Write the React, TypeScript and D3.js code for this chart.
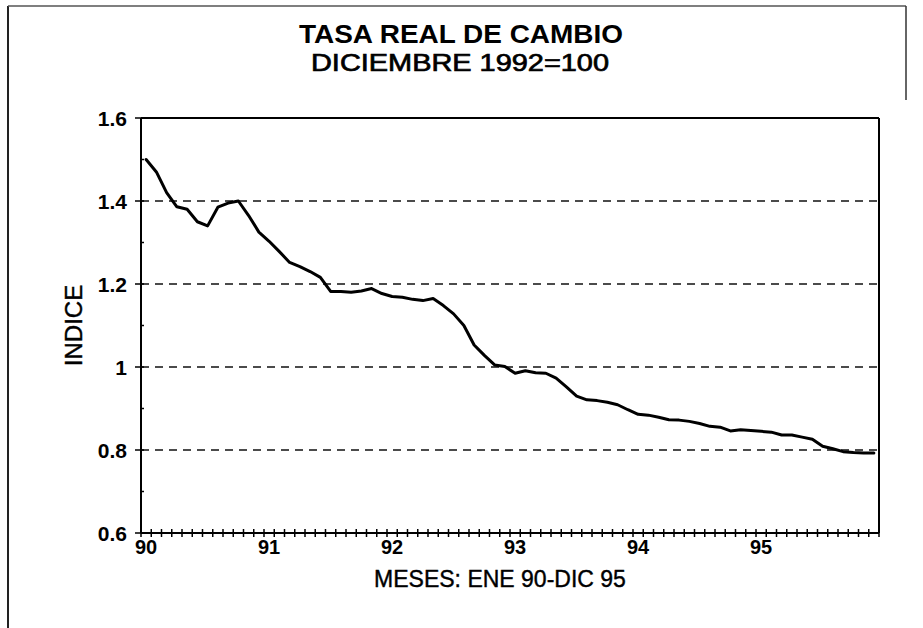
import * as d3 from 'd3'

const TITLE = 'TASA REAL DE CAMBIO'
const SUBTITLE = 'DICIEMBRE 1992=100'
const X_TITLE = 'MESES: ENE 90-DIC 95'
const Y_TITLE = 'INDICE'

// monthly index, Jan 1990 .. Dec 1995
const VALUES = [
  1.5, 1.47, 1.42, 1.386, 1.38, 1.35, 1.34, 1.385, 1.395, 1.4, 1.365, 1.325,
  1.303, 1.278, 1.252, 1.242, 1.23, 1.216, 1.182, 1.182, 1.18, 1.183, 1.189, 1.177,
  1.17, 1.168, 1.163, 1.16, 1.165, 1.148, 1.128, 1.1, 1.053, 1.028, 1.005, 1.001,
  0.985, 0.991, 0.986, 0.985, 0.973, 0.952, 0.93, 0.921, 0.919, 0.915, 0.909, 0.897,
  0.886, 0.884, 0.879, 0.873, 0.872, 0.869, 0.864, 0.857, 0.855, 0.846, 0.849, 0.847,
  0.845, 0.843, 0.836, 0.836, 0.831, 0.826, 0.809, 0.803, 0.796, 0.794, 0.793, 0.793,
]
const YEAR_LABELS = ['90', '91', '92', '93', '94', '95']
const Y_TICKS = [0.6, 0.8, 1, 1.2, 1.4, 1.6]
const Y_MINOR = [0.7, 0.9, 1.1, 1.3, 1.5]
const GRID = [0.8, 1, 1.2, 1.4]

const W = 923
const H = 628
const PLOT = { left: 141, right: 879, top: 118, bottom: 533 }
const FONT = '"Liberation Sans", Arial, sans-serif'

export default function App() {
  const n = VALUES.length
  const x = d3.scaleLinear().domain([0, n]).range([PLOT.left, PLOT.right])
  const cx = (i: number) => x(i + 0.5)
  const y = d3.scaleLinear().domain([0.6, 1.6]).range([PLOT.bottom, PLOT.top])

  const line = d3.line<number>()
    .x((_, i) => cx(i))
    .y(d => y(d))

  const xTicks = d3.range(n + 1)

  return (
    <svg
      width={W}
      height={H}
      style={{ position: 'absolute', left: 0, top: 0, background: '#fff', fontFamily: FONT }}
    >
      <rect x={0} y={0} width={W} height={H} fill="#fff" />

      {/* outer frame (scan shows left + top edges) */}
      <line x1={8} x2={8} y1={6} y2={H} stroke="#222" strokeWidth={2} />
      <line x1={8} x2={906} y1={6} y2={6} stroke="#555" strokeWidth={1.5} />
      <line x1={906} x2={906} y1={6} y2={100} stroke="#333" strokeWidth={1.5} />

      {/* titles */}
      <text x={461} y={43} textAnchor="middle" fontSize={26} fontWeight="bold" textLength={324} lengthAdjust="spacingAndGlyphs">
        {TITLE}
      </text>
      <text
        x={460}
        y={71}
        textAnchor="middle"
        fontSize={24}
        stroke="#000"
        strokeWidth={0.7}
        textLength={298}
        lengthAdjust="spacingAndGlyphs"
      >
        {SUBTITLE}
      </text>

      {/* grid */}
      {GRID.map(v => (
        <line
          key={`g-${v}`}
          x1={PLOT.left}
          x2={PLOT.right}
          y1={y(v)}
          y2={y(v)}
          stroke="#111"
          strokeWidth={1.5}
          strokeDasharray="8,6"
        />
      ))}

      {/* plot frame top/right */}
      <line x1={PLOT.left} x2={PLOT.right} y1={PLOT.top} y2={PLOT.top} stroke="#000" strokeWidth={2} />
      <line x1={PLOT.right} x2={PLOT.right} y1={PLOT.top} y2={PLOT.bottom} stroke="#000" strokeWidth={2} />

      {/* y axis */}
      <line x1={PLOT.left} x2={PLOT.left} y1={PLOT.top} y2={PLOT.bottom} stroke="#000" strokeWidth={2} />
      {Y_TICKS.map(v => (
        <g key={`yt-${v}`}>
          <line x1={PLOT.left - 6} x2={PLOT.left + 3} y1={y(v)} y2={y(v)} stroke="#000" strokeWidth={1.5} />
          <text
            x={PLOT.left - 14}
            y={y(v)}
            dy="0.36em"
            textAnchor="end"
            fontSize={21}
            fontWeight="bold"
          >
            {v === 1 ? '1' : v.toFixed(1)}
          </text>
        </g>
      ))}
      {Y_MINOR.map(v => (
        <line key={`ym-${v}`} x1={PLOT.left - 1} x2={PLOT.left + 3} y1={y(v)} y2={y(v)} stroke="#000" strokeWidth={1.5} />
      ))}
      <text
        transform={`translate(82, ${(PLOT.top + PLOT.bottom) / 2}) rotate(-90)`}
        textAnchor="middle"
        fontSize={24}
        stroke="#000"
        strokeWidth={0.4}
      >
        {Y_TITLE}
      </text>

      {/* x axis */}
      <line x1={PLOT.left} x2={PLOT.right} y1={PLOT.bottom} y2={PLOT.bottom} stroke="#000" strokeWidth={2} />
      {xTicks.map(t => (
        <line key={`xt-${t}`} x1={x(t)} x2={x(t)} y1={PLOT.bottom - 4} y2={PLOT.bottom + 4} stroke="#000" strokeWidth={1.5} />
      ))}
      {YEAR_LABELS.map((lab, k) => (
        <text key={`xl-${lab}`} x={cx(k * 12)} y={554} textAnchor="middle" fontSize={20} fontWeight="bold">
          {lab}
        </text>
      ))}
      <text x={500} y={587} textAnchor="middle" fontSize={23} stroke="#000" strokeWidth={0.4}>
        {X_TITLE}
      </text>

      {/* series */}
      <path
        d={line(VALUES) || ''}
        fill="none"
        stroke="#000"
        strokeWidth={3}
        strokeLinejoin="round"
        strokeLinecap="round"
      />
    </svg>
  )
}
